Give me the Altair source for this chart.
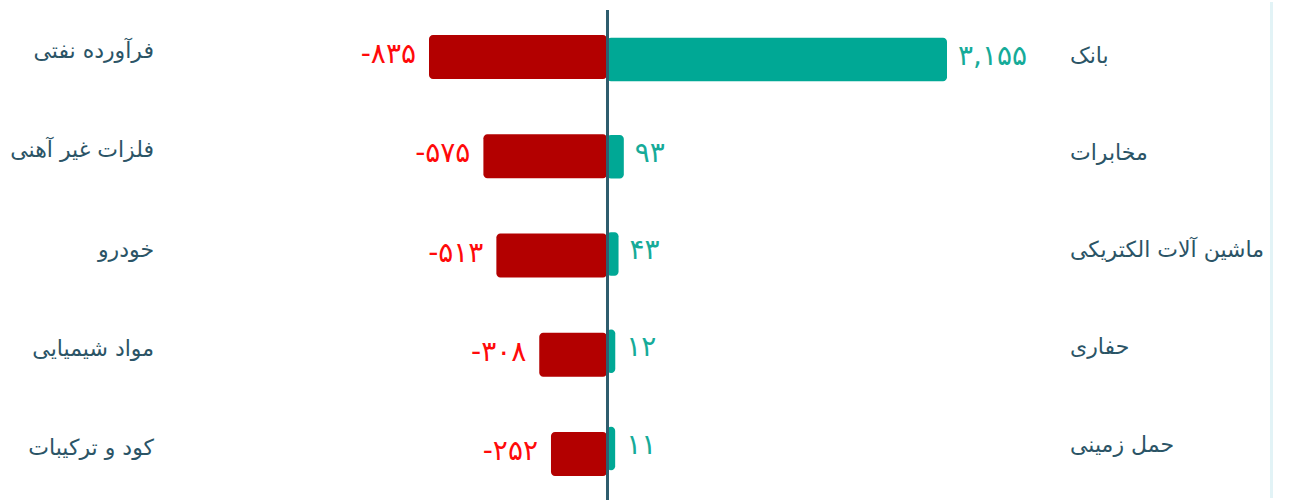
import altair as alt
import pandas as pd

# Sectors with the largest net outflow (left) and inflow (right)
neg_names = ["فرآورده نفتی", "فلزات غیر آهنی", "خودرو", "مواد شیمیایی", "کود و ترکیبات"]
neg_values = [-835, -575, -513, -308, -252]

pos_names = ["بانک", "مخابرات", "ماشین آلات الکتریکی", "حفاری", "حمل زمینی"]
pos_values = [3155, 93, 43, 12, 11]

PERSIAN_DIGITS = str.maketrans("0123456789", "۰۱۲۳۴۵۶۷۸۹")


def fa_number(v):
    return f"{v:,}".translate(PERSIAN_DIGITS)


neg_df = pd.DataFrame({
    "rank": range(len(neg_names)),
    "name": neg_names,
    "value": neg_values,
    "label": [fa_number(v) for v in neg_values],
})
pos_df = pd.DataFrame({
    "rank": range(len(pos_names)),
    "name": pos_names,
    "value": pos_values,
    "label": [fa_number(v) for v in pos_values],
})

FONT = "DejaVu Sans"
NAME_COLOR = "#2b5466"
RED_BAR = "#b30000"
RED_TEXT = "#ff0a0a"
TEAL_BAR = "#00a895"
TEAL_TEXT = "#16ab99"
AXIS_COLOR = "#2f5d6e"

# ---- left half: negative values ----
y_left = alt.Y("rank:O", axis=None,
               scale=alt.Scale(paddingInner=0.557, paddingOuter=0.2975, align=0.56))
x_left = alt.X("value:Q", axis=None,
               scale=alt.Scale(domain=[-835, 0], range=[429, 603.7], nice=False, zero=False))

left_base = alt.Chart(neg_df)
left_bars = left_base.mark_rect(color=RED_BAR, cornerRadius=4).encode(
    x=x_left, x2=alt.value(607), y=y_left
)
left_values = left_base.mark_text(
    align="right", baseline="middle", dx=-13, dy=-2, font=FONT, fontSize=28, color=RED_TEXT
).encode(x=x_left, y=y_left, text="label:N")
left_names = left_base.mark_text(
    align="right", baseline="middle", dy=-6, font=FONT, fontSize=22, color=NAME_COLOR
).encode(x=alt.value(154), y=y_left, text="name:N")

left = alt.layer(left_bars, left_values, left_names).properties(width=607, height=500)

# ---- right half: positive values ----
y_right = alt.Y("rank:O", axis=None,
                scale=alt.Scale(paddingInner=0.553, paddingOuter=0.347, align=0.53))
x_right = alt.X("value:Q", axis=None,
                scale=alt.Scale(domain=[0, 3155], range=[7, 340], nice=False))

right_base = alt.Chart(pos_df)
right_bars = right_base.mark_rect(color=TEAL_BAR, cornerRadius=4).encode(
    x=x_right, x2=alt.value(0), y=y_right
)
right_values = right_base.mark_text(
    align="left", baseline="middle", dx=11, dy=-3, font=FONT, fontSize=28, color=TEAL_TEXT
).encode(x=x_right, y=y_right, text="label:N")
right_names = right_base.mark_text(
    align="left", baseline="middle", dy=-4, font=FONT, fontSize=22, color=NAME_COLOR
).encode(x=alt.value(463), y=y_right, text="name:N")

# zero line between the two halves
zero_line = alt.Chart(pos_df).mark_rule(color=AXIS_COLOR, strokeWidth=3).encode(
    x=alt.value(0.5), y=alt.value(8), y2=alt.value(498)
)
# right edge of the card
card_edge = alt.Chart(pos_df).mark_rule(color="#e2f3f6", strokeWidth=2.5).encode(
    x=alt.value(664.5), y=alt.value(0), y2=alt.value(496)
)

right = alt.layer(right_bars, right_values, right_names, zero_line, card_edge).properties(
    width=687, height=500
)

chart = (
    alt.hconcat(left, right, spacing=0, bounds="flush")
    .properties(padding=0, background="white")
    .configure_view(stroke=None)
)

chart.save("out.html", embed_options={"renderer": "svg", "actions": False})
